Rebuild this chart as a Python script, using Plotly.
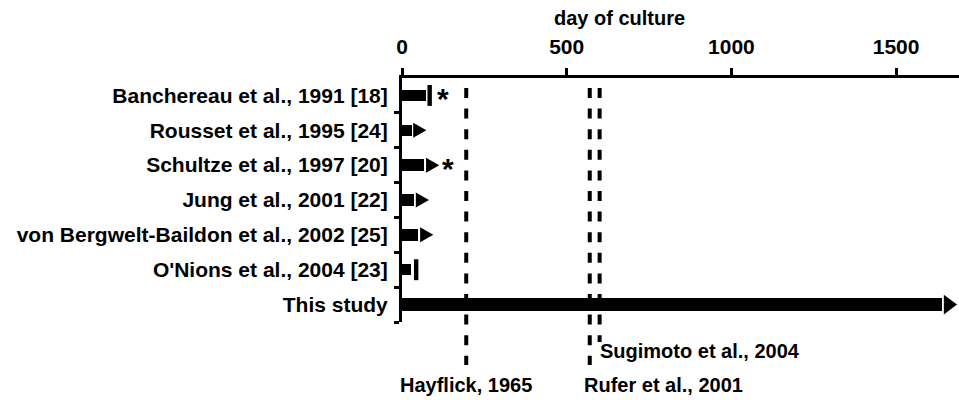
import plotly.graph_objects as go

# ---- data ----
studies = ["Banchereau et al., 1991 [18]", "Rousset et al., 1995 [24]",
           "Schultze et al., 1997 [20]", "Jung et al., 2001 [22]",
           "von Bergwelt-Baildon et al., 2002 [25]", "O'Nions et al., 2004 [23]",
           "This study"]
bar_days = [73, 29, 68, 37, 50, 26, 1640]          # length of culture bar (days)
end_type = ["stop", "arrow", "arrow", "arrow", "arrow", "stop", "arrow"]
stop_days = [84, None, None, None, None, 43, None]   # position of end mark
star_days = [124, None, 139, None, None, None, None]

ref_names = ["Hayflick, 1965", "Rufer et al., 2001", "Sugimoto et al., 2004"]
ref_days = [195, 570, 600]

x_ticks = [0, 500, 1000, 1500]

# ---- style ----
FONT = "Liberation Sans, Arial, Helvetica, sans-serif"
BLACK = "black"
rows = list(range(len(studies)))


def bold(size):
    return dict(family=FONT, size=size, color=BLACK, weight="bold")


fig = go.Figure()

# bars
widths = [0.38 if s == "This study" else 0.33 for s in studies]
fig.add_trace(go.Bar(x=bar_days, y=rows, orientation="h", width=widths,
                     marker=dict(color=BLACK, line=dict(width=0)),
                     hoverinfo="skip"))

# arrow heads
gap, length = 5, 40
tx, ty = [], []
for r, b, e, s in zip(rows, bar_days, end_type, studies):
    if e != "arrow":
        continue
    h = 0.57 if s == "This study" else 0.43
    tx += [b + gap, b + gap + length, b + gap, b + gap, None]
    ty += [r - h / 2, r, r + h / 2, r - h / 2, None]
fig.add_trace(go.Scatter(x=tx, y=ty, mode="lines", fill="toself",
                         fillcolor=BLACK, line=dict(width=0, color=BLACK),
                         hoverinfo="skip"))

# stop marks
sx, sy = [], []
for r, d in zip(rows, stop_days):
    if d is None:
        continue
    sx += [d, d, None]
    sy += [r - 0.3, r + 0.3, None]
fig.add_trace(go.Scatter(x=sx, y=sy, mode="lines",
                         line=dict(width=4.4, color=BLACK), hoverinfo="skip"))

# stars
for r, d in zip(rows, star_days):
    if d is None:
        continue
    fig.add_annotation(x=d, y=r, text="*", showarrow=False, yshift=-3,
                       font=bold(30))

# reference dashed lines
bottoms = [-0.176, -0.176, -0.082]
for d, yb in zip(ref_days, bottoms):
    fig.add_shape(type="line", xref="x", yref="paper", x0=d, x1=d,
                  y0=0.959, y1=yb, line=dict(color=BLACK, width=4, dash="10px,10.6px"))

fig.add_annotation(x=ref_days[0], y=-0.258, xref="x", yref="paper", text=ref_names[0],
                   showarrow=False, xanchor="center", yanchor="middle", font=bold(20))
fig.add_annotation(x=ref_days[1], y=-0.258, xref="x", yref="paper", text=ref_names[1],
                   showarrow=False, xanchor="left", yanchor="middle", xshift=-8,
                   font=bold(20))
fig.add_annotation(x=ref_days[2], y=-0.119, xref="x", yref="paper", text=ref_names[2],
                   showarrow=False, xanchor="left", yanchor="middle", xshift=-2,
                   font=bold(20))

# axis title (placed as in the reference, left of centre)
fig.add_annotation(x=0.39, y=1.246, xref="paper", yref="paper", text="day of culture",
                   showarrow=False, xanchor="center", yanchor="middle", font=bold(20))

fig.update_layout(
    width=959, height=400,
    margin=dict(l=402, r=0, t=78, b=78, autoexpand=False),
    paper_bgcolor="white", plot_bgcolor="white",
    showlegend=False, bargap=0, hovermode=False,
    font=bold(20),
    xaxis=dict(side="top", range=[0, 1691], tickvals=x_ticks,
               ticktext=[str(v) for v in x_ticks],
               ticks="outside", ticklen=7, tickwidth=2.5, tickcolor=BLACK,
               showline=True, linewidth=3, linecolor=BLACK, automargin=False,
               showgrid=False, zeroline=False, ticklabelstandoff=6,
               tickfont=bold(21)),
    yaxis=dict(range=[6.5, -0.5], tickvals=rows, ticktext=studies, ticks="",
               showline=True, linewidth=3, linecolor=BLACK, automargin=False,
               showgrid=False, zeroline=False, ticklabelstandoff=7,
               tickfont=bold(21),
               minor=dict(tickmode="array", tickvals=[i + 0.5 for i in rows],
                          ticks="outside", ticklen=5, tickwidth=2.5, tickcolor=BLACK,
                          showgrid=False)),
)

fig.write_html("out.html", config={"displayModeBar": False},
               post_script="document.body.style.margin='0';document.body.style.overflow='hidden';")
